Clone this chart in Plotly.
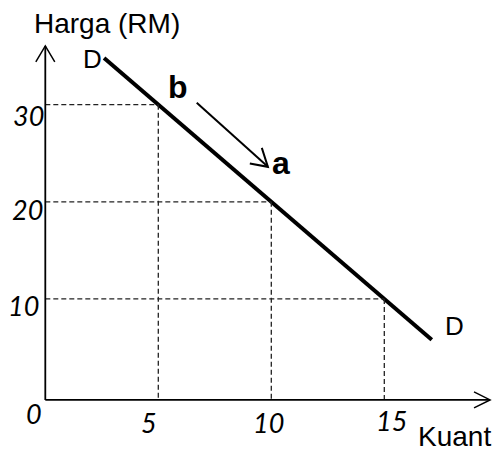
import plotly.graph_objects as go

# ---- data ----
demand_x = [2.6, 17.1]
demand_y = [34.8, 5.8]
ref_q = [5, 10, 15]
ref_p = [30, 20, 10]
x_tick_labels = ["5", "10", "15"]
y_tick_labels = ["30", "20", "10"]
move_from = (6.7, 30.2)
move_to = (9.85, 23.6)

# ---- scales (pixel layout of the figure) ----
W, H = 492, 452
X0PX, XPU = 45.3, 22.6     # pixel of x=0, pixels per unit
Y0PX, YPU = 396.0, 9.71    # pixel of y=0, pixels per unit
x_range = [-X0PX / XPU, (W - X0PX) / XPU]
y_range = [(Y0PX - H) / YPU, Y0PX / YPU]

AX_Y = -0.4        # position of horizontal axis line
Y_TOP = 36.05      # top of vertical axis
X_RIGHT = 19.68    # right end of horizontal axis

fig = go.Figure()

# demand curve
fig.add_trace(go.Scatter(x=demand_x, y=demand_y, mode="lines",
                         line=dict(color="black", width=4), hoverinfo="skip"))

shapes = []
dash = dict(color="#222222", width=1.3, dash="5px,3px")
for q, p in zip(ref_q, ref_p):
    shapes.append(dict(type="line", xref="x", yref="y", x0=0, y0=p, x1=q, y1=p, line=dash))
    shapes.append(dict(type="line", xref="x", yref="y", x0=q, y0=p, x1=q, y1=AX_Y, line=dash))

ax_line = dict(color="black", width=1.8)
# axes
shapes.append(dict(type="line", xref="x", yref="y", x0=0, y0=AX_Y, x1=0, y1=Y_TOP, line=ax_line))
shapes.append(dict(type="line", xref="x", yref="y", x0=0, y0=AX_Y, x1=X_RIGHT, y1=AX_Y, line=ax_line))
# axis arrowheads (open V)
shapes.append(dict(type="path", xref="x", yref="y",
                   path=f"M {-0.42},{Y_TOP-1.65} L 0,{Y_TOP} L {0.42},{Y_TOP-1.65}",
                   line=dict(color="black", width=1.5)))
shapes.append(dict(type="path", xref="x", yref="y",
                   path=f"M {X_RIGHT-0.71},{AX_Y+0.82} L {X_RIGHT},{AX_Y} L {X_RIGHT-0.71},{AX_Y-0.82}",
                   line=dict(color="black", width=1.5)))
# movement arrow b -> a
shapes.append(dict(type="line", xref="x", yref="y", x0=move_from[0], y0=move_from[1],
                   x1=move_to[0], y1=move_to[1], line=dict(color="black", width=2)))
tx, ty = move_to
shapes.append(dict(type="path", xref="x", yref="y",
                   path=f"M {tx-0.8},{ty+0.35} L {tx},{ty} L {tx-0.27},{ty+1.95}",
                   line=dict(color="black", width=2)))

ann = []
tick_font = dict(family="Lato", size=27, color="black", style="italic")
label_font = dict(family="Liberation Sans", size=28, color="black")
d_font = dict(family="Liberation Sans", size=26, color="black")
bold_font = dict(family="Liberation Sans", size=32, color="black", weight="bold")

def px_ann(text, xpx, ypx, font, xanchor="center"):
    ann.append(dict(text=text, x=(xpx - X0PX) / XPU, y=(Y0PX - ypx) / YPU,
                    xref="x", yref="y", showarrow=False, font=font,
                    xanchor=xanchor, yanchor="middle"))

# y tick labels
for lab, p, dxp, dyp in zip(y_tick_labels, ref_p, [28, 27, 23], [11, 8, 7]):
    ann.append(dict(text=lab, x=0, y=p, xref="x", yref="y", showarrow=False,
                    font=tick_font, xanchor="center", yanchor="middle",
                    xshift=dxp - X0PX, yshift=-dyp))
# x tick labels
for lab, q, dxp, ypx in zip(x_tick_labels, ref_q, [-9, -3, 7], [422, 422, 420]):
    ann.append(dict(text=lab, x=q, y=0, xref="x", yref="y", showarrow=False,
                    font=tick_font, xanchor="center", yanchor="middle",
                    xshift=dxp, yshift=Y0PX - ypx))
ann.append(dict(text="0", x=0, y=0, xref="x", yref="y", showarrow=False,
                font=tick_font, xanchor="center", yanchor="middle",
                xshift=-11, yshift=Y0PX - 413))

px_ann("Harga (RM)", 107, 23, label_font)
px_ann("Kuant", 454, 436, label_font)
px_ann("D", 92, 59, d_font)
px_ann("D", 454, 326, d_font)
px_ann("b", 178, 87, bold_font)
px_ann("a", 281, 163, bold_font)

fig.update_layout(
    width=W, height=H, margin=dict(l=0, r=0, t=0, b=0),
    paper_bgcolor="white", plot_bgcolor="white", showlegend=False,
    xaxis=dict(range=x_range, visible=False, fixedrange=True),
    yaxis=dict(range=y_range, visible=False, fixedrange=True),
    shapes=shapes, annotations=ann,
)

fig.write_html("out.html", config={"displayModeBar": False},
               post_script="document.body.style.margin='0';document.body.style.overflow='hidden';")
